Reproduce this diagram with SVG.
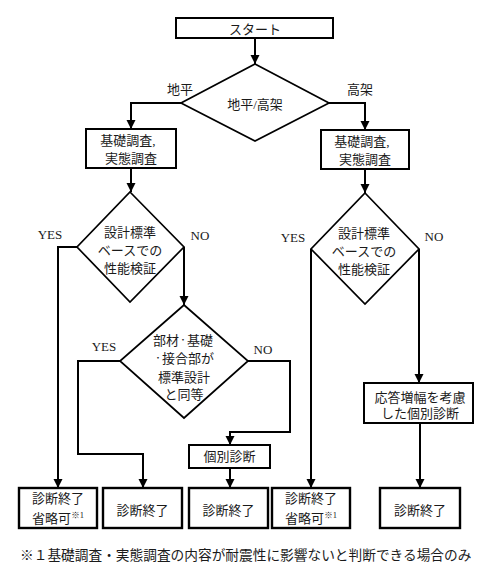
<svg xmlns="http://www.w3.org/2000/svg" width="495" height="571" viewBox="0 0 495 571">
<style>
text{font-family:"Liberation Serif","Noto Sans CJK JP",serif;font-size:13px;fill:#1a1a1a;text-anchor:middle}
.box{fill:#fff;stroke:#000;stroke-width:2}
.end{fill:#fff;stroke:#000;stroke-width:2.4}
.dia{fill:#fff;stroke:#000;stroke-width:1.7}
.con{fill:none;stroke:#000;stroke-width:2;marker-end:url(#ah)}
.note{text-anchor:start;font-size:13.7px}
.dot{font-size:8px}
</style>
<defs>
<marker id="ah" markerUnits="userSpaceOnUse" markerWidth="10" markerHeight="10" refX="9" refY="4.5" orient="auto">
<path d="M0,0 L9,4.5 L0,9 z" fill="#000"/>
</marker>
</defs>
<rect width="495" height="571" fill="#fff"/>
<g id="connectors">
<path class="con" d="M255,38 V64"/>
<path class="con" d="M181,103 H131 V129"/>
<path class="con" d="M329,103 H365 V130"/>
<path class="con" d="M131,168 V192"/>
<path class="con" d="M365,169 V193"/>
<path class="con" d="M77,247 H58 V488"/>
<path class="con" d="M184,247 V305"/>
<path class="con" d="M120,361 H78 V454 H143 V488"/>
<path class="con" d="M248,361 H290 V432 H230 V445"/>
<path class="con" d="M230,468 V488"/>
<path class="con" d="M311,249 V488"/>
<path class="con" d="M419,249 V383"/>
<path class="con" d="M420,423 V488"/>
</g>
<g id="labels">
<text x="180" y="93.5">地平</text>
<text x="360" y="93.5">高架</text>
<text x="50" y="239">YES</text>
<text x="200" y="240">NO</text>
<text x="104" y="351">YES</text>
<text x="263" y="354">NO</text>
<text x="293" y="242">YES</text>
<text x="434" y="241">NO</text>
</g>
<g id="start">
<rect class="box" x="176" y="18" width="157" height="20" stroke-width="1.6"/>
<text x="255" y="33.5">スタート</text>
</g>
<g id="d-ground-elevated">
<polygon class="dia" points="255,64 329,103 255,141 181,103"/>
<text x="255" y="108.5">地平/高架</text>
</g>
<g id="survey-left">
<rect class="box" x="86" y="129" width="90" height="39"/>
<text x="128" y="145">基礎調査,</text>
<text x="131" y="163">実態調査</text>
</g>
<g id="survey-right">
<rect class="box" x="321" y="130" width="88" height="39"/>
<text x="362" y="146">基礎調査,</text>
<text x="365" y="164">実態調査</text>
</g>
<g id="d-std-left">
<polygon class="dia" points="130,192 184,247 130,302 77,247"/>
<text x="130" y="236.5">設計標準</text>
<text x="130" y="254.5">ベースでの</text>
<text x="130" y="272.5">性能検証</text>
</g>
<g id="d-std-right">
<polygon class="dia" points="365,193 419,249 365,304 311,249"/>
<text x="364" y="237.5">設計標準</text>
<text x="364" y="255.5">ベースでの</text>
<text x="364" y="274">性能検証</text>
</g>
<g id="d-member">
<polygon class="dia" points="184,305 248,361 184,418 120,361"/>
<text x="183" y="344.5">部材<tspan class="dot" dy="-2">・</tspan><tspan dy="2">基礎</tspan></text>
<text x="184" y="362.5"><tspan class="dot" dy="-2">・</tspan><tspan dy="2">接合部が</tspan></text>
<text x="184" y="381.5">標準設計</text>
<text x="184" y="398.5">と同等</text>
</g>
<g id="individual">
<rect class="box" x="189" y="445" width="81" height="23"/>
<text x="229.5" y="461">個別診断</text>
</g>
<g id="response">
<rect class="box" x="364" y="383" width="109" height="40"/>
<text x="420" y="401.5">応答増幅を考慮</text>
<text x="420" y="417.5">した個別診断</text>
</g>
<g id="end1">
<rect class="end" x="19" y="488" width="78" height="40"/>
<text x="58" y="503">診断終了</text>
<text x="58" y="523">省略可<tspan font-size="8.5" dy="-5">※1</tspan></text>
</g>
<g id="end2">
<rect class="end" x="103" y="488" width="79" height="40"/>
<text x="142.5" y="514.5">診断終了</text>
</g>
<g id="end3">
<rect class="end" x="189" y="488" width="79" height="40"/>
<text x="228.5" y="514.5">診断終了</text>
</g>
<g id="end4">
<rect class="end" x="272" y="488" width="78" height="40"/>
<text x="311" y="503">診断終了</text>
<text x="311" y="523">省略可<tspan font-size="8.5" dy="-5">※1</tspan></text>
</g>
<g id="end5">
<rect class="end" x="380" y="488" width="80" height="40"/>
<text x="420" y="514.5">診断終了</text>
</g>
<g id="footnote">
<text class="note" x="20" y="560">※１基礎調査・実態調査の内容が耐震性に影響ないと判断できる場合のみ</text>
</g>
</svg>
